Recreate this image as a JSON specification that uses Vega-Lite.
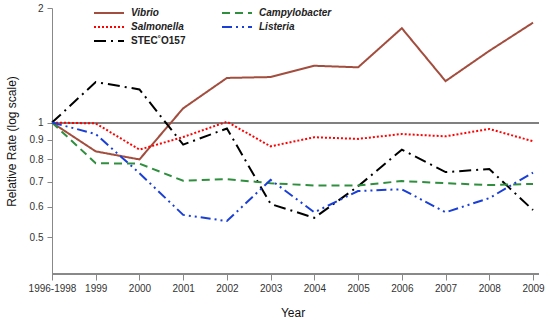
{
  "$schema": "https://vega.github.io/schema/vega-lite/v6.json",
  "width": 487,
  "height": 266,
  "autosize": {"type": "none"},
  "padding": {"left": 52, "top": 8, "right": 11, "bottom": 47},
  "config": {
    "view": {"stroke": null},
    "font": "Liberation Sans",
    "axis": {"grid": false, "domainColor": "#888888", "tickColor": "#888888", "labelColor": "#333333", "labelFontSize": 10, "titleFontWeight": "normal", "titleFontSize": 12, "titleColor": "#111111"}
  },
  "data": {
    "values": [
      {"year": "1996-1998", "pathogen": "Vibrio", "rate": 1.0},
      {"year": "1999", "pathogen": "Vibrio", "rate": 0.84},
      {"year": "2000", "pathogen": "Vibrio", "rate": 0.80},
      {"year": "2001", "pathogen": "Vibrio", "rate": 1.09},
      {"year": "2002", "pathogen": "Vibrio", "rate": 1.31},
      {"year": "2003", "pathogen": "Vibrio", "rate": 1.317},
      {"year": "2004", "pathogen": "Vibrio", "rate": 1.41},
      {"year": "2005", "pathogen": "Vibrio", "rate": 1.397},
      {"year": "2006", "pathogen": "Vibrio", "rate": 1.77},
      {"year": "2007", "pathogen": "Vibrio", "rate": 1.285},
      {"year": "2008", "pathogen": "Vibrio", "rate": 1.543},
      {"year": "2009", "pathogen": "Vibrio", "rate": 1.83},
      {"year": "1996-1998", "pathogen": "Salmonella", "rate": 1.0},
      {"year": "1999", "pathogen": "Salmonella", "rate": 0.995},
      {"year": "2000", "pathogen": "Salmonella", "rate": 0.849},
      {"year": "2001", "pathogen": "Salmonella", "rate": 0.916},
      {"year": "2002", "pathogen": "Salmonella", "rate": 1.005},
      {"year": "2003", "pathogen": "Salmonella", "rate": 0.866},
      {"year": "2004", "pathogen": "Salmonella", "rate": 0.915},
      {"year": "2005", "pathogen": "Salmonella", "rate": 0.906},
      {"year": "2006", "pathogen": "Salmonella", "rate": 0.933},
      {"year": "2007", "pathogen": "Salmonella", "rate": 0.92},
      {"year": "2008", "pathogen": "Salmonella", "rate": 0.962},
      {"year": "2009", "pathogen": "Salmonella", "rate": 0.893},
      {"year": "1996-1998", "pathogen": "STEC˚O157", "rate": 1.0},
      {"year": "1999", "pathogen": "STEC˚O157", "rate": 1.278},
      {"year": "2000", "pathogen": "STEC˚O157", "rate": 1.222},
      {"year": "2001", "pathogen": "STEC˚O157", "rate": 0.875},
      {"year": "2002", "pathogen": "STEC˚O157", "rate": 0.965},
      {"year": "2003", "pathogen": "STEC˚O157", "rate": 0.611},
      {"year": "2004", "pathogen": "STEC˚O157", "rate": 0.562},
      {"year": "2005", "pathogen": "STEC˚O157", "rate": 0.68},
      {"year": "2006", "pathogen": "STEC˚O157", "rate": 0.849},
      {"year": "2007", "pathogen": "STEC˚O157", "rate": 0.741},
      {"year": "2008", "pathogen": "STEC˚O157", "rate": 0.755},
      {"year": "2009", "pathogen": "STEC˚O157", "rate": 0.589},
      {"year": "1996-1998", "pathogen": "Campylobacter", "rate": 1.0},
      {"year": "1999", "pathogen": "Campylobacter", "rate": 0.782},
      {"year": "2000", "pathogen": "Campylobacter", "rate": 0.78},
      {"year": "2001", "pathogen": "Campylobacter", "rate": 0.703},
      {"year": "2002", "pathogen": "Campylobacter", "rate": 0.71},
      {"year": "2003", "pathogen": "Campylobacter", "rate": 0.693},
      {"year": "2004", "pathogen": "Campylobacter", "rate": 0.683},
      {"year": "2005", "pathogen": "Campylobacter", "rate": 0.683},
      {"year": "2006", "pathogen": "Campylobacter", "rate": 0.702},
      {"year": "2007", "pathogen": "Campylobacter", "rate": 0.693},
      {"year": "2008", "pathogen": "Campylobacter", "rate": 0.685},
      {"year": "2009", "pathogen": "Campylobacter", "rate": 0.69},
      {"year": "1996-1998", "pathogen": "Listeria", "rate": 1.0},
      {"year": "1999", "pathogen": "Listeria", "rate": 0.933},
      {"year": "2000", "pathogen": "Listeria", "rate": 0.736},
      {"year": "2001", "pathogen": "Listeria", "rate": 0.572},
      {"year": "2002", "pathogen": "Listeria", "rate": 0.551},
      {"year": "2003", "pathogen": "Listeria", "rate": 0.707},
      {"year": "2004", "pathogen": "Listeria", "rate": 0.581},
      {"year": "2005", "pathogen": "Listeria", "rate": 0.661},
      {"year": "2006", "pathogen": "Listeria", "rate": 0.668},
      {"year": "2007", "pathogen": "Listeria", "rate": 0.581},
      {"year": "2008", "pathogen": "Listeria", "rate": 0.633},
      {"year": "2009", "pathogen": "Listeria", "rate": 0.739}
    ]
  },
  "layer": [
    {
      "mark": {"type": "rule", "color": "#808080", "strokeWidth": 1},
      "encoding": {"y": {"datum": 1, "type": "quantitative", "scale": {"type": "log", "domain": [0.4, 2]}}}
    },
    {
      "mark": {"type": "rule", "color": "#888888", "strokeWidth": 1},
      "encoding": {"y": {"datum": 0.4, "type": "quantitative"}}
    },
    {
      "mark": {"type": "line", "strokeWidth": 2},
      "encoding": {
        "x": {
          "field": "year", "type": "ordinal", "sort": null,
          "scale": {"type": "point", "padding": 0, "range": [0, 481]},
          "axis": {"title": "Year", "labelAngle": 0, "domain": false, "tickSize": 6, "labelPadding": 3, "titlePadding": 14}
        },
        "y": {
          "field": "rate", "type": "quantitative",
          "scale": {"type": "log", "domain": [0.4, 2], "nice": false},
          "axis": {"title": "Relative Rate (log scale)", "values": [0.5, 0.6, 0.7, 0.8, 0.9, 1, 2], "labelExpr": "'' + datum.value", "tickSize": 5, "labelPadding": 4, "titlePadding": 11}
        },
        "color": {
          "field": "pathogen", "type": "nominal",
          "scale": {"domain": ["Vibrio", "Salmonella", "STEC˚O157", "Campylobacter", "Listeria"], "range": ["#A24D3D", "#FF0000", "#000000", "#2F8F3F", "#1A3FD6"]},
          "legend": {
            "title": null, "orient": "none", "legendX": 41, "legendY": -2, "columns": 2, "columnPadding": 32, "rowPadding": 2,
            "symbolType": "M-1,0H4", "symbolSize": 144, "symbolStrokeWidth": 2, "symbolFillColor": "transparent", "labelFontSize": 10, "labelFontWeight": "bold", "labelColor": "#222222", "labelOffset": 24, "padding": 0,
            "encode": {"labels": {"update": {"fontStyle": {"signal": "datum.label == 'STEC˚O157' ? 'normal' : 'italic'"}}}}
          }
        },
        "strokeDash": {
          "field": "pathogen", "type": "nominal",
          "scale": {"domain": ["Vibrio", "Salmonella", "STEC˚O157", "Campylobacter", "Listeria"], "range": [[1, 0], [2, 2], [12, 5, 2, 5], [8, 5], [10, 4, 2, 4, 2, 4]]},
          "legend": null
        }
      }
    }
  ]
}
